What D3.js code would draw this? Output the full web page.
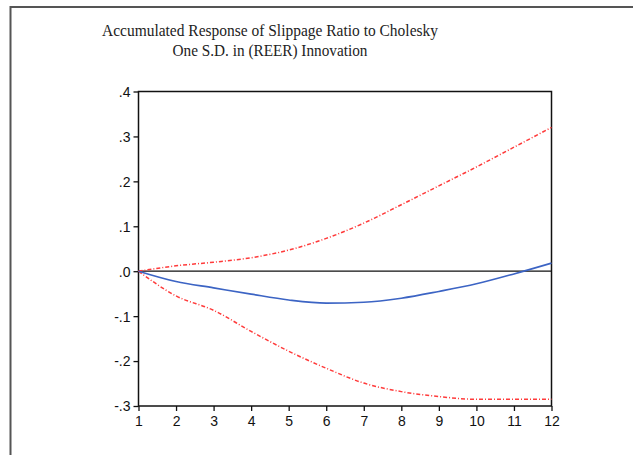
<!DOCTYPE html>
<html>
<head>
<meta charset="utf-8">
<script src="https://cdn.jsdelivr.net/npm/d3@7"></script>
<style>
  body { margin: 0; background: #fff; }
  svg { display: block; }
</style>
</head>
<body>
<svg id="chart"></svg>
<script>
var periods = [1, 2, 3, 4, 5, 6, 7, 8, 9, 10, 11, 12];
var response = [0, -0.023, -0.037, -0.051, -0.064, -0.071, -0.069, -0.060, -0.045, -0.028, -0.006, 0.018];
var upperBand = [0, 0.012, 0.020, 0.030, 0.047, 0.073, 0.107, 0.148, 0.190, 0.232, 0.276, 0.320];
var lowerBand = [0, -0.055, -0.087, -0.134, -0.178, -0.216, -0.249, -0.268, -0.279, -0.285, -0.285, -0.285];
var yTicks = [0.4, 0.3, 0.2, 0.1, 0.0, -0.1, -0.2, -0.3];
var yTickLabels = [".4", ".3", ".2", ".1", ".0", "-.1", "-.2", "-.3"];
var titleLines = ["Accumulated Response of Slippage Ratio to Cholesky", "One S.D. in (REER) Innovation"];
var titleWidths = [336, 195];

var width = 633;
var height = 455;

var svg = d3.select("#chart")
            .attr("width", width)
            .attr("height", height);

// outer frame (left and top edges only visible)
svg.append("path")
   .attr("d", "M10.5,455 L10.5,7 L633,7")
   .attr("fill", "none")
   .attr("stroke", "#555")
   .attr("stroke-width", 2);

var x = d3.scaleLinear().domain([1, 12]).range([138.5, 551.5]);
var y = d3.scaleLinear().domain([-0.3, 0.4]).range([406, 91.5]);

svg.selectAll("text.title")
   .data(titleLines)
   .enter()
   .append("text")
   .attr("class", "title")
   .attr("x", 270)
   .attr("y", function(d, i) { return 35.5 + i * 20.5; })
   .attr("text-anchor", "middle")
   .attr("font-family", "Liberation Serif, serif")
   .attr("font-size", 17)
   .attr("textLength", function(d, i) { return titleWidths[i]; })
   .attr("lengthAdjust", "spacingAndGlyphs")
   .attr("fill", "#222")
   .text(function(d) { return d; });

var yAxis = d3.axisLeft(y)
              .tickValues(yTicks)
              .tickSize(5)
              .tickFormat(function(d, i) { return yTickLabels[i]; });

var xAxis = d3.axisBottom(x)
              .tickValues(periods)
              .tickSize(5)
              .tickFormat(d3.format("d"));

var gy = svg.append("g")
            .attr("transform", "translate(" + x(1) + ",0)")
            .call(yAxis);
var gx = svg.append("g")
            .attr("transform", "translate(0," + y(-0.3) + ")")
            .call(xAxis);

[gx, gy].forEach(function(g) {
  g.select(".domain").remove();
  g.selectAll("line").attr("stroke", "#111").attr("stroke-width", 1.3);
  g.selectAll("text")
   .attr("font-family", "Liberation Sans, Arial, sans-serif")
   .attr("font-size", 14)
   .attr("fill", "#111");
});
gx.selectAll("text").attr("dy", "0.85em");
gy.selectAll("text").attr("dy", "0.35em");

// plot box
svg.append("rect")
   .attr("x", x(1))
   .attr("y", y(0.4))
   .attr("width", x(12) - x(1))
   .attr("height", y(-0.3) - y(0.4))
   .attr("fill", "none")
   .attr("stroke", "#111")
   .attr("stroke-width", 1.5);

// zero line
svg.append("line")
   .attr("x1", x(1))
   .attr("x2", x(12))
   .attr("y1", y(0))
   .attr("y2", y(0))
   .attr("stroke", "#111")
   .attr("stroke-width", 1.3);

var line = d3.line()
             .x(function(d, i) { return x(periods[i]); })
             .y(function(d) { return y(d); })
             .curve(d3.curveMonotoneX);

[upperBand, lowerBand].forEach(function(band) {
  svg.append("path")
     .datum(band)
     .attr("d", line)
     .attr("fill", "none")
     .attr("stroke", "#ff3b3b")
     .attr("stroke-width", 1.5)
     .attr("stroke-dasharray", "4,2,1,2");
});

svg.append("path")
   .datum(response)
   .attr("d", line)
   .attr("fill", "none")
   .attr("stroke", "#3c64c4")
   .attr("stroke-width", 1.6);
</script>
</body>
</html>
